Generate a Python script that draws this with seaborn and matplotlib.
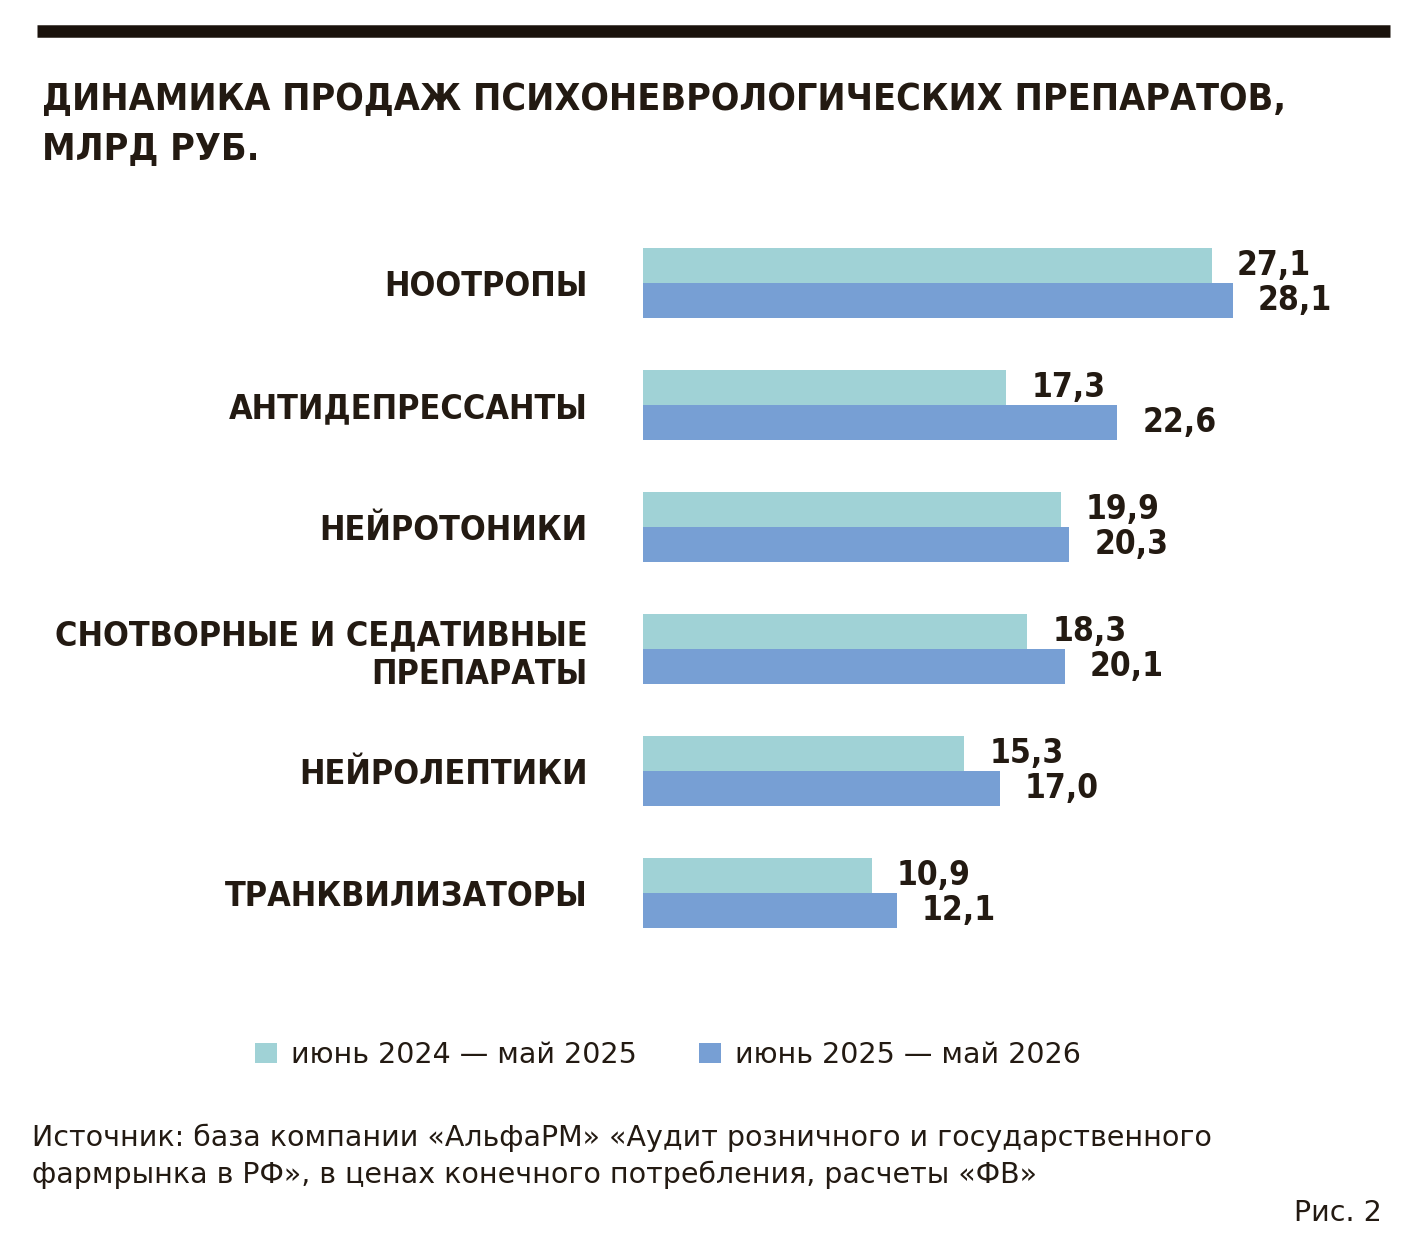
import pandas as pd
import numpy as np
import matplotlib.pyplot as plt
import seaborn as sns
from matplotlib.patches import Patch

categories = ['НООТРОПЫ', 'АНТИДЕПРЕССАНТЫ', 'НЕЙРОТОНИКИ',
              'СНОТВОРНЫЕ И СЕДАТИВНЫЕ\nПРЕПАРАТЫ', 'НЕЙРОЛЕПТИКИ', 'ТРАНКВИЛИЗАТОРЫ']
sales_2024 = [27.1, 17.3, 19.9, 18.3, 15.3, 10.9]
sales_2025 = [28.1, 22.6, 20.3, 20.1, 17.0, 12.1]
periods = ['июнь 2024 — май 2025', 'июнь 2025 — май 2026']
colors = ['#a0d2d6', '#779fd4']

TXT = '#231a12'

df = pd.DataFrame({
    'cat': categories * 2,
    'value': sales_2024 + sales_2025,
    'period': [periods[0]] * len(categories) + [periods[1]] * len(categories),
})

sns.set_style('white')
plt.rcParams['font.family'] = ['DejaVu Sans']
plt.rcParams['font.stretch'] = 'condensed'
plt.rcParams['text.color'] = TXT

fig = plt.figure(figsize=(14.14, 12.38), dpi=100)
ax = fig.add_axes([0.4547, 0.2294, 0.4455, 0.5913])

sns.barplot(data=df, y='cat', x='value', hue='period', palette=colors,
            orient='h', width=0.574, saturation=1, linewidth=0,
            ax=ax, legend=False)

for cont in ax.containers:
    labels = [f'{v:.1f}'.replace('.', ',') for v in cont.datavalues]
    ax.bar_label(cont, labels=labels, padding=18, fontsize=24,
                 fontweight='bold', color=TXT)

ax.set_xlim(0, 30)
ax.set_ylim(5.5, -0.5)
ax.set_xlabel('')
ax.set_ylabel('')
ax.set_xticks([])
ax.tick_params(axis='y', length=0, pad=40)
for lab in ax.get_yticklabels():
    lab.set_fontsize(24.5)
    lab.set_fontweight('bold')
    lab.set_color(TXT)
    lab.set_horizontalalignment('right')
    lab.set_multialignment('right')
sns.despine(ax=ax, left=True, bottom=True)

# top rule
fig.add_artist(plt.Line2D([37 / 1414, 1390 / 1414], [1 - 31 / 1238] * 2,
                          color='#1a120c', lw=9, solid_capstyle='butt'))

fig.text(42 / 1414, 1 - 100 / 1238, 'ДИНАМИКА ПРОДАЖ ПСИХОНЕВРОЛОГИЧЕСКИХ ПРЕПАРАТОВ,',
         fontsize=27, fontweight='bold', va='center', ha='left')
fig.text(42 / 1414, 1 - 150 / 1238, 'МЛРД РУБ.',
         fontsize=27, fontweight='bold', va='center', ha='left')

handles = [Patch(facecolor=c, edgecolor='none') for c in colors]
fig.legend(handles, periods, loc='center', bbox_to_anchor=(668 / 1414, 1 - 1055 / 1238),
           ncol=2, frameon=False, handlelength=0.75, handleheight=0.75,
           handletextpad=0.5, columnspacing=2.2,
           prop={'size': 20.5, 'stretch': 'normal'})

src = dict(fontsize=20.5, fontstretch='normal', va='center')
fig.text(32 / 1414, 1 - 1138 / 1238,
         'Источник: база компании «АльфаРМ» «Аудит розничного и государственного',
         ha='left', **src)
fig.text(32 / 1414, 1 - 1175 / 1238,
         'фармрынка в РФ», в ценах конечного потребления, расчеты «ФВ»',
         ha='left', **src)
fig.text(1382 / 1414, 1 - 1213 / 1238, 'Рис. 2', ha='right', **src)

fig.savefig('out.png', dpi=100, facecolor='white')
